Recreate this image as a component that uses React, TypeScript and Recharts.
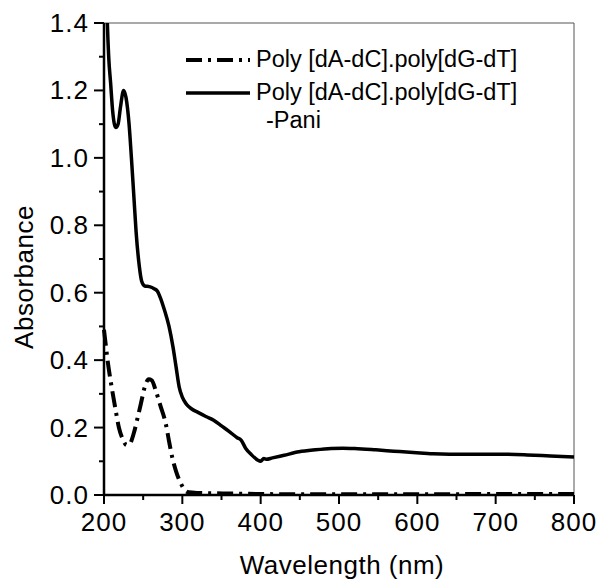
import { LineChart, Line, XAxis, YAxis, ReferenceLine } from "recharts";

const paniWavelength = [
  202, 204, 206, 208.5, 211, 215, 218, 221, 225, 228, 232, 235, 238, 241, 245, 248, 252, 258, 264, 268,
  272, 277, 283, 288, 292, 296, 300, 305, 312, 320, 330, 340, 350, 360, 370, 375, 381, 388, 396, 400,
  404, 407, 415, 430, 449, 470, 490, 505, 520, 547, 570, 599, 620, 641, 670, 705, 740, 770, 800,
];
const paniAbsorbance = [
  1.62, 1.42, 1.3, 1.22, 1.14, 1.09, 1.1, 1.15, 1.2, 1.18, 1.1, 1.0, 0.89, 0.78, 0.68, 0.635, 0.62, 0.618, 0.612, 0.605,
  0.585, 0.55, 0.5, 0.44, 0.38, 0.32, 0.29, 0.27, 0.255, 0.245, 0.233, 0.222, 0.205, 0.188, 0.17, 0.163, 0.138, 0.12, 0.104, 0.1,
  0.108, 0.106, 0.11, 0.118, 0.128, 0.134, 0.138, 0.139, 0.138, 0.134, 0.13, 0.125, 0.122, 0.121, 0.121, 0.121, 0.119, 0.116, 0.113,
];

const dnaWavelength = [
  200, 202, 204, 207, 210.5, 215, 219, 224, 229, 233, 238, 243, 247, 252, 257, 261, 266, 272, 279, 283,
  287, 292, 298, 303, 308, 320, 340, 370, 400, 450, 500, 600, 700, 800,
];
const dnaAbsorbance = [
  0.49, 0.45, 0.41, 0.36, 0.31, 0.25, 0.2, 0.165, 0.148, 0.152, 0.183, 0.23, 0.27, 0.32, 0.343, 0.34, 0.31, 0.265, 0.21, 0.16,
  0.113, 0.07, 0.035, 0.015, 0.008, 0.006, 0.005, 0.004, 0.003, 0.002, 0.002, 0.002, 0.003, 0.003,
];

const xTicks = [200, 250, 300, 350, 400, 450, 500, 550, 600, 650, 700, 750, 800];
const yTicks = [0, 0.1, 0.2, 0.3, 0.4, 0.5, 0.6, 0.7, 0.8, 0.9, 1.0, 1.1, 1.2, 1.3, 1.4];

const legendLabels = ["Poly [dA-dC].poly[dG-dT]", "Poly [dA-dC].poly[dG-dT]", "-Pani"];

const paniData = paniWavelength.map((w, i) => ({ w, a: paniAbsorbance[i] }));
const dnaData = dnaWavelength.map((w, i) => ({ w, a: dnaAbsorbance[i] }));

const FONT = "'Liberation Sans', Arial, sans-serif";
const DASH = "16 6 3 6";

const XTick = ({ x, y, payload }: any) => {
  const major = payload.value % 100 === 0;
  return (
    <g>
      <line x1={x} x2={x} y1={y} y2={y + (major ? 9 : 5)} stroke="#000" strokeWidth={2} />
      {major && (
        <text x={x} y={y + 36} textAnchor="middle" fontSize={26} letterSpacing={1} fontFamily={FONT} fill="#000">
          {payload.value}
        </text>
      )}
    </g>
  );
};

const YTick = ({ x, y, payload }: any) => {
  const major = Math.round(payload.value * 10) % 2 === 0;
  return (
    <g>
      <line x1={x} x2={x - (major ? 10 : 5)} y1={y} y2={y} stroke="#000" strokeWidth={2} />
      {major && (
        <text x={x - 15} y={y + 9} textAnchor="end" fontSize={26} letterSpacing={1} fontFamily={FONT} fill="#000">
          {payload.value.toFixed(1)}
        </text>
      )}
    </g>
  );
};

// legend is drawn as an overlay so it takes no room from the plot
const LegendBox = () => (
  <div
    style={{
      position: "absolute",
      left: 186,
      top: 43,
      fontFamily: FONT,
      fontSize: 23.5,
      color: "#000",
      lineHeight: "33px",
      whiteSpace: "nowrap",
    }}
  >
    <div style={{ display: "flex", alignItems: "center" }}>
      <svg width={66} height={10}>
        <line x1={0} x2={64} y1={5} y2={5} stroke="#000" strokeWidth={4} strokeDasharray={DASH} />
      </svg>
      <span style={{ marginLeft: 4 }}>{legendLabels[0]}</span>
    </div>
    <div style={{ display: "flex", alignItems: "center" }}>
      <svg width={66} height={10}>
        <line x1={0} x2={64} y1={5} y2={5} stroke="#000" strokeWidth={3.5} />
      </svg>
      <span style={{ marginLeft: 4 }}>{legendLabels[1]}</span>
    </div>
    <div style={{ paddingLeft: 80, lineHeight: "22px" }}>{legendLabels[2]}</div>
  </div>
);

export default function App() {
  return (
    <div style={{ position: "absolute", left: 0, top: 0, width: 599, height: 581, background: "#fff" }}>
      <LineChart width={599} height={581} margin={{ top: 23, right: 25, left: 0, bottom: 0 }}>
        <XAxis
          dataKey="w"
          type="number"
          domain={[200, 800]}
          ticks={xTicks}
          interval={0}
          tickSize={0}
          tickMargin={0}
          tick={<XTick />}
          height={86}
          axisLine={{ stroke: "#000", strokeWidth: 2.5 }}
          allowDuplicatedCategory={false}
          label={{
            content: () => (
              <text x={342} y={574} textAnchor="middle" fontSize={26} letterSpacing={0.5} fontFamily={FONT} fill="#000">
                Wavelength (nm)
              </text>
            ),
          }}
        />
        <YAxis
          type="number"
          domain={[0, 1.4]}
          allowDataOverflow
          ticks={yTicks}
          interval={0}
          tickSize={0}
          tickMargin={0}
          tick={<YTick />}
          width={104}
          axisLine={{ stroke: "#000", strokeWidth: 2.5 }}
          label={{
            content: () => (
              <text
                x={33}
                y={277}
                textAnchor="middle"
                fontSize={26}
                letterSpacing={0.5}
                fontFamily={FONT}
                fill="#000"
                transform="rotate(-90 33 277)"
              >
                Absorbance
              </text>
            ),
          }}
        />
        <ReferenceLine y={1.4} stroke="#555" strokeWidth={1} />
        <ReferenceLine x={800} stroke="#555" strokeWidth={1} />
        <Line
          data={dnaData}
          dataKey="a"
          type="monotone"
          stroke="#000"
          strokeWidth={4}
          strokeDasharray={DASH}
          dot={false}
          isAnimationActive={false}
        />
        <Line
          data={paniData}
          dataKey="a"
          type="monotone"
          stroke="#000"
          strokeWidth={3.5}
          dot={false}
          isAnimationActive={false}
        />
      </LineChart>
      <LegendBox />
    </div>
  );
}
